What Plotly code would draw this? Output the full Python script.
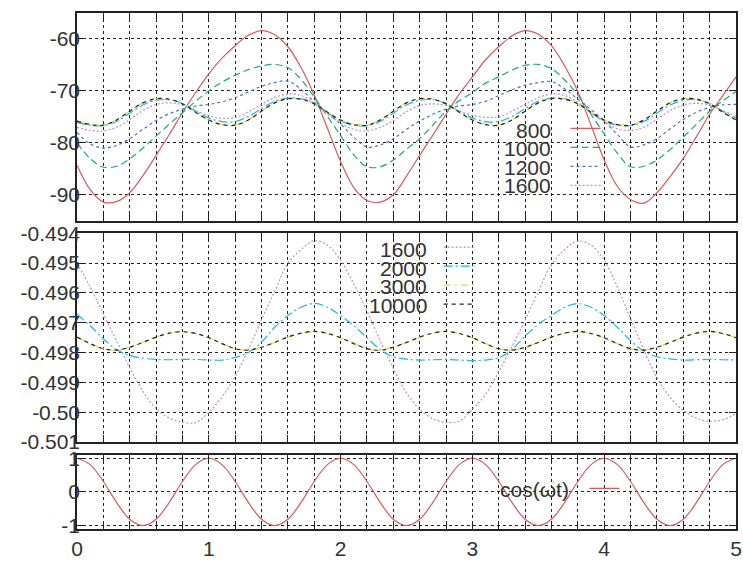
import plotly.graph_objects as go

# ---------------- data ----------------
t = [round(0.1 * i, 1) for i in range(51)]

top_800 = [-84.3, -89.0, -91.4, -91.3, -89.6, -86.3, -82.4, -78.4, -74.2, -70.3,
           -66.7, -63.7, -61.3, -59.3, -58.4, -59.2, -61.5, -65.5, -70.8, -77.2,
           -83.6, -88.6, -91.1, -91.4, -90.0, -86.4, -82.4, -78.5, -74.5, -70.6,
           -67.3, -64.0, -61.5, -59.4, -58.4, -59.1, -61.3, -65.2, -70.1, -76.6,
           -83.3, -88.4, -90.9, -91.6, -89.6, -86.5, -83.0, -78.8, -74.5, -70.9, -67.3]
top_1000 = [-80.0, -83.0, -84.7, -84.5, -83.1, -81.0, -78.7, -76.4, -74.2, -72.0,
            -70.0, -68.3, -67.0, -65.9, -65.2, -64.9, -65.5, -67.8, -71.2, -74.9,
            -78.6, -82.3, -84.6, -84.6, -83.3, -81.2, -79.2, -76.6, -73.9, -71.9,
            -70.3, -68.5, -67.3, -66.0, -65.1, -64.9, -65.7, -67.9, -70.8, -74.5,
            -78.3, -82.0, -84.6, -84.5, -83.3, -81.3, -78.9, -76.4, -73.9, -71.9, -70.1]
top_1200 = [-78.0, -80.2, -81.0, -80.5, -79.2, -77.4, -75.7, -74.4, -73.5, -72.9,
            -72.6, -72.1, -71.3, -70.2, -69.1, -68.4, -68.1, -69.7, -72.1, -74.2,
            -76.4, -78.9, -80.8, -80.4, -79.2, -77.4, -75.8, -74.5, -73.5, -72.9,
            -72.6, -72.0, -70.9, -69.8, -68.9, -68.4, -68.2, -69.6, -71.6, -73.6,
            -75.8, -78.4, -80.8, -80.4, -79.2, -77.3, -75.5, -74.1, -73.2, -72.7, -72.6]
top_1600 = [-77.0, -77.6, -77.7, -77.0, -75.5, -73.8, -72.6, -72.3, -72.7, -73.8,
            -74.8, -75.3, -75.1, -74.0, -72.6, -71.3, -70.6, -70.9, -72.4, -74.5,
            -76.2, -77.4, -77.7, -77.0, -75.7, -74.0, -72.8, -72.5, -72.8, -73.9,
            -74.7, -75.1, -75.0, -73.9, -72.6, -71.3, -70.6, -70.9, -72.2, -74.2,
            -75.9, -77.3, -77.6, -77.0, -75.5, -73.8, -72.7, -72.4, -72.7, -73.8, -74.8]
top_2000 = [-76.1, -76.6, -76.7, -75.9, -74.3, -72.7, -71.8, -71.7, -72.4, -73.9,
            -75.2, -75.9, -75.9, -74.9, -73.4, -72.0, -71.4, -71.5, -72.4, -74.2,
            -75.8, -76.6, -76.7, -75.9, -74.3, -72.7, -71.8, -71.7, -72.4, -73.9,
            -75.2, -75.9, -75.9, -74.9, -73.4, -72.0, -71.4, -71.5, -72.4, -74.2,
            -75.8, -76.6, -76.7, -75.9, -74.3, -72.7, -71.8, -71.7, -72.4, -73.9, -75.2]
top_3000 = [-75.7, -76.4, -76.5, -75.6, -73.9, -72.3, -71.5, -71.6, -72.5, -74.1,
            -75.6, -76.4, -76.5, -75.6, -73.9, -72.3, -71.5, -71.6, -72.5, -74.1,
            -75.6, -76.4, -76.5, -75.6, -73.9, -72.3, -71.5, -71.6, -72.5, -74.1,
            -75.6, -76.4, -76.5, -75.6, -73.9, -72.3, -71.5, -71.6, -72.5, -74.1,
            -75.6, -76.4, -76.5, -75.6, -73.9, -72.3, -71.5, -71.6, -72.5, -74.1, -75.6]
top_10000 = [-75.8, -76.5, -76.6, -75.6, -73.9, -72.3, -71.5, -71.6, -72.5, -74.1,
             -75.6, -76.5, -76.6, -75.6, -73.9, -72.3, -71.5, -71.6, -72.5, -74.1,
             -75.6, -76.5, -76.6, -75.6, -73.9, -72.3, -71.5, -71.6, -72.5, -74.1,
             -75.6, -76.5, -76.6, -75.6, -73.9, -72.3, -71.5, -71.6, -72.5, -74.1,
             -75.6, -76.5, -76.6, -75.6, -73.9, -72.3, -71.5, -71.6, -72.5, -74.1, -75.6]

mid_1600 = [-0.49500, -0.49580, -0.49670, -0.49760, -0.49850, -0.49930, -0.49988, -0.50020, -0.50033, -0.50035,
            -0.50000, -0.49950, -0.49880, -0.49790, -0.49690, -0.49595, -0.49500, -0.49455, -0.49425, -0.49440,
            -0.49490, -0.49570, -0.49660, -0.49760, -0.49853, -0.49935, -0.49990, -0.50022, -0.50034, -0.50030,
            -0.49990, -0.49940, -0.49864, -0.49780, -0.49690, -0.49595, -0.49505, -0.49455, -0.49426, -0.49440,
            -0.49490, -0.49580, -0.49686, -0.49790, -0.49884, -0.49950, -0.49994, -0.50020, -0.50030, -0.50025, -0.50005]
mid_2000 = [-0.49671, -0.49710, -0.49754, -0.49790, -0.49810, -0.49819, -0.49823, -0.49824, -0.49823, -0.49823,
            -0.49825, -0.49825, -0.49816, -0.49800, -0.49765, -0.49715, -0.49676, -0.49648, -0.49635, -0.49648,
            -0.49676, -0.49710, -0.49750, -0.49790, -0.49814, -0.49822, -0.49825, -0.49824, -0.49823, -0.49825,
            -0.49827, -0.49825, -0.49817, -0.49790, -0.49745, -0.49705, -0.49676, -0.49648, -0.49636, -0.49648,
            -0.49676, -0.49715, -0.49760, -0.49795, -0.49814, -0.49821, -0.49825, -0.49824, -0.49823, -0.49824, -0.49825]
mid_3000 = [-0.49748, -0.49770, -0.49787, -0.49792, -0.49782, -0.49766, -0.49748, -0.49735, -0.49730, -0.49736,
            -0.49751, -0.49770, -0.49787, -0.49792, -0.49782, -0.49766, -0.49748, -0.49735, -0.49730, -0.49736,
            -0.49751, -0.49770, -0.49787, -0.49792, -0.49782, -0.49766, -0.49748, -0.49735, -0.49730, -0.49736,
            -0.49751, -0.49770, -0.49787, -0.49792, -0.49782, -0.49766, -0.49748, -0.49735, -0.49730, -0.49736,
            -0.49751, -0.49770, -0.49787, -0.49792, -0.49782, -0.49766, -0.49748, -0.49735, -0.49730, -0.49736, -0.49751]
mid_10000 = [-0.49748, -0.49770, -0.49787, -0.49792, -0.49782, -0.49766, -0.49748, -0.49735, -0.49730, -0.49736,
             -0.49750, -0.49770, -0.49787, -0.49792, -0.49782, -0.49766, -0.49748, -0.49735, -0.49729, -0.49736,
             -0.49750, -0.49770, -0.49787, -0.49792, -0.49782, -0.49766, -0.49748, -0.49735, -0.49729, -0.49736,
             -0.49750, -0.49770, -0.49787, -0.49792, -0.49782, -0.49766, -0.49748, -0.49735, -0.49729, -0.49736,
             -0.49750, -0.49770, -0.49787, -0.49792, -0.49782, -0.49766, -0.49748, -0.49735, -0.49729, -0.49736, -0.49750]

bot_cos = [1.0, 0.81, 0.31, -0.31, -0.81, -1.0, -0.81, -0.31, 0.31, 0.81,
           1.0, 0.81, 0.31, -0.31, -0.81, -1.0, -0.81, -0.31, 0.31, 0.81,
           1.0, 0.81, 0.31, -0.31, -0.81, -1.0, -0.81, -0.31, 0.31, 0.81,
           1.0, 0.81, 0.31, -0.31, -0.81, -1.0, -0.81, -0.31, 0.31, 0.81,
           1.0, 0.81, 0.31, -0.31, -0.81, -1.0, -0.81, -0.31, 0.31, 0.81, 1.0]

x_ticks = [round(0.2 * i, 1) for i in range(26)]
top_yticks = [-90, -80, -70, -60]
top_ylabels = ["-90", "-80", "-70", "-60"]
mid_yticks = [-0.501, -0.500, -0.499, -0.498, -0.497, -0.496, -0.495, -0.494]
mid_ylabels = ["-0.501", "-0.50", "-0.499", "-0.498", "-0.497", "-0.496", "-0.495", "-0.494"]
bot_yticks = [-1, 0, 1]
bot_ylabels = ["-1", "0", "1"]

# ---------------- styles ----------------
RED, GREEN, BLUE, PINK = "#d95a5a", "#1daa7a", "#4a72c4", "#c98cc2"
CYAN, YELLOW, BLACK = "#1ab8e4", "#f0d640", "#222222"
FONT = "Liberation Sans"
TXT = "#333333"

styles = {
    "800": dict(color=RED, dash="solid"),
    "1000": dict(color=GREEN, dash="7px,4px"),
    "1200": dict(color=BLUE, dash="3px,3px"),
    "1600": dict(color=PINK, dash="2px,2px"),
    "2000": dict(color=CYAN, dash="9px,3px,2px,3px"),
    "3000": dict(color=YELLOW, dash="7px,4px,2px,4px"),
    "10000": dict(color=BLACK, dash="4px,4px"),
}

fig = go.Figure()

top_series = [("800", top_800, True), ("1000", top_1000, True), ("1200", top_1200, True),
              ("1600", top_1600, True), ("2000", top_2000, False), ("3000", top_3000, False),
              ("10000", top_10000, False)]
for name, vals, show in top_series:
    s = styles[name]
    fig.add_trace(go.Scatter(x=t, y=vals, mode="lines", name=" ", showlegend=show,
                             legend="legend", xaxis="x", yaxis="y",
                             line=dict(color=s["color"], dash=s["dash"], width=1.2, shape="spline")))

mid_series = [("1600", mid_1600), ("2000", mid_2000), ("3000", mid_3000), ("10000", mid_10000)]
for name, vals in mid_series:
    s = styles[name]
    fig.add_trace(go.Scatter(x=t, y=vals, mode="lines", name=" ", showlegend=True,
                             legend="legend2", xaxis="x2", yaxis="y2",
                             line=dict(color=s["color"], dash=s["dash"], width=1.2, shape="spline")))

fig.add_trace(go.Scatter(x=t, y=bot_cos, mode="lines", name=" ", showlegend=True,
                         legend="legend3", xaxis="x3", yaxis="y3",
                         line=dict(color=RED, width=1.2, shape="spline")))

# ---------------- layout ----------------
W, H = 743, 561
ML, MR, MT, MB = 77, 1, 7, 30
PW, PH = W - ML - MR, H - MT - MB


def py(p):  # pixel row -> paper y
    return (H - MB - p) / PH


def px(p):  # pixel column -> paper x
    return (p - ML) / PW


axis_common = dict(showline=True, linecolor="#222222", linewidth=1.6, mirror="ticks",
                   ticks="inside", ticklen=7, tickwidth=1.2, tickcolor="#222222",
                   showgrid=True, gridcolor="#222222", griddash="dot", gridwidth=1,
                   zeroline=False, ticklabeloverflow="allow",
                   tickfont=dict(family=FONT, size=21, color=TXT))
yaxis_extra = dict(ticklabelstandoff=-9)

xlab_blank = ["" for _ in x_ticks]
xlab_bottom = [(str(int(round(v))) if abs(v - round(v)) < 1e-9 else "") for v in x_ticks]

fig.update_layout(
    width=W, height=H, margin=dict(l=ML, r=MR, t=MT, b=MB),
    paper_bgcolor="white", plot_bgcolor="white",
    font=dict(family=FONT, color=TXT),
    xaxis=dict(domain=[0, 1], anchor="y", range=[0, 5], tickvals=x_ticks, ticktext=xlab_blank, **axis_common),
    yaxis=dict(domain=[py(218), 1], anchor="x", range=[-95, -55], tickvals=top_yticks,
               ticktext=top_ylabels, **axis_common, **yaxis_extra),
    xaxis2=dict(domain=[0, 1], anchor="y2", range=[0, 5], tickvals=x_ticks, ticktext=xlab_blank, **axis_common),
    yaxis2=dict(domain=[py(442.7), py(230.7)], anchor="x2", range=[-0.501, -0.494],
                tickvals=mid_yticks, ticktext=mid_ylabels, **axis_common, **yaxis_extra),
    xaxis3=dict(domain=[0, 1], anchor="y3", range=[0, 5], tickvals=x_ticks, ticktext=xlab_bottom, **axis_common),
    yaxis3=dict(domain=[0, py(455.7)], anchor="x3", range=[-1.1, 1.1], tickvals=bot_yticks,
                ticktext=bot_ylabels, **axis_common, **yaxis_extra),
)

leg_common = dict(bgcolor="rgba(0,0,0,0)", borderwidth=0, font=dict(family=FONT, size=12),
                  itemwidth=30, tracegroupgap=0, xanchor="left", yanchor="top", traceorder="normal",
                  itemclick=False, itemdoubleclick=False)
fig.update_layout(
    legend=dict(x=px(570), y=py(109.5), **leg_common),
    legend2=dict(x=px(442), y=py(230), **leg_common),
    legend3=dict(x=px(589), y=py(475), **leg_common),
)

# key labels (text left of the line samples, as in the original key)
labels = [("800", 557.5, 126), ("1000", 557.5, 144.8), ("1200", 557.5, 163.6), ("1600", 557.5, 182.3),
          ("1600", 432.5, 247), ("2000", 432.5, 266), ("3000", 432.5, 285), ("10000", 432.5, 304),
          ("cos(\u03c9t)", 575.5, 490.5)]
for txt, xr, yc in labels:
    fig.add_annotation(text=txt, x=px(xr), y=py(yc), xref="paper", yref="paper",
                       xanchor="right", yanchor="middle", showarrow=False,
                       font=dict(family=FONT, size=21, color=TXT))

# opaque key boxes hiding the grid behind the keys
for x0, x1, y0, y1 in [(500, 628, 118, 195), (366, 500, 238, 316), (508, 646, 481, 506)]:
    fig.add_shape(type="rect", xref="paper", yref="paper", x0=px(x0), x1=px(x1), y0=py(y1), y1=py(y0),
                  fillcolor="white", line=dict(width=0), layer="between")

fig.write_html("out.html")
